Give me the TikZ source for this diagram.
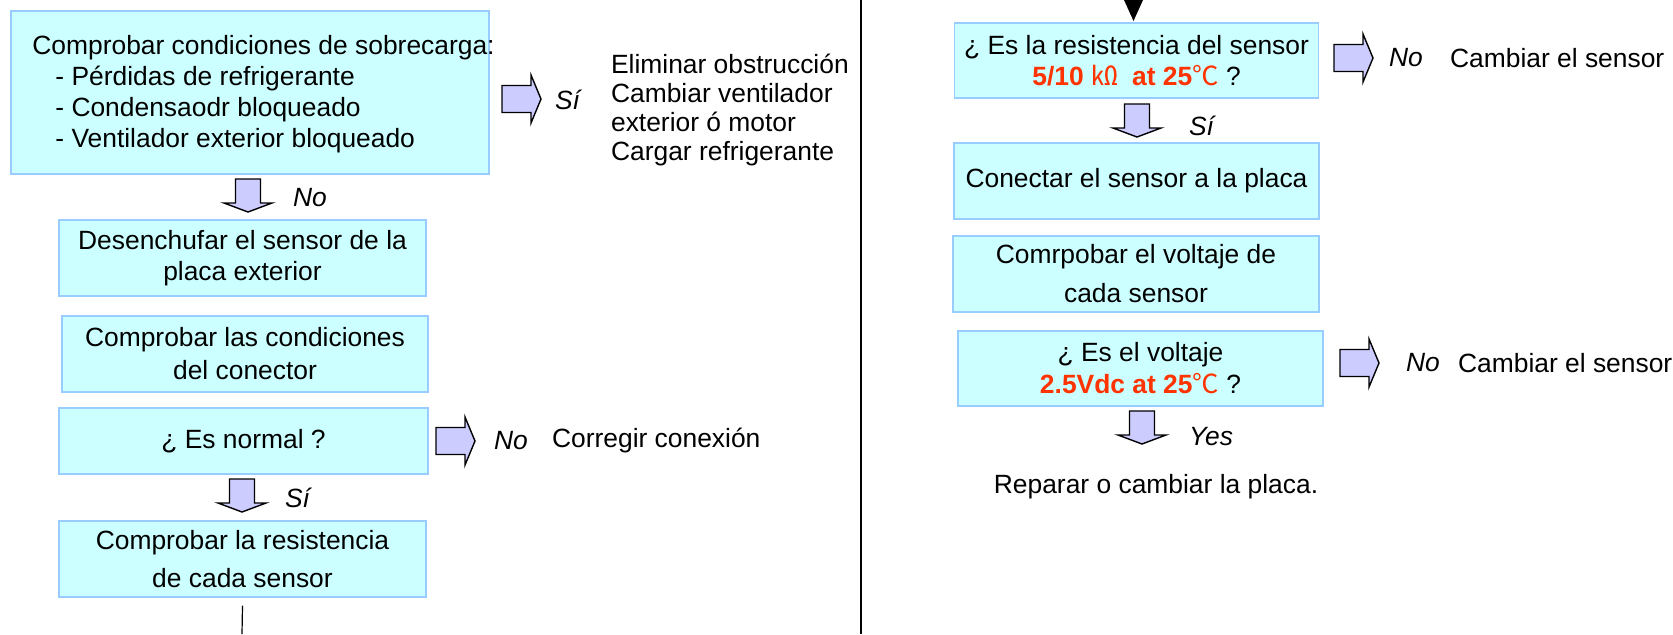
\documentclass[tikz,border=0pt]{standalone}
\usepackage{fontspec}
\setmainfont{Liberation Sans}
\newfontfamily\cjk{Noto Sans CJK SC}
\usepackage{xcolor}
\usetikzlibrary{arrows.meta}
\definecolor{boxfill}{HTML}{CCFFFF}
\definecolor{boxline}{HTML}{99CCFF}
\definecolor{arrowfill}{HTML}{CCCCFF}
\definecolor{alertred}{HTML}{FF3300}

\begin{document}
\begin{tikzpicture}[
        x=0.5pt, y=-0.5pt,
        every node/.style={font=\fontsize{13.2}{15.5}\selectfont},
        box/.style={
            draw=boxline,
            fill=boxfill,
            line width=0.6pt,
            inner sep=0pt,
            align=center
        },
        answer/.style={anchor=west, font=\fontsize{13.2}{15.5}\selectfont\itshape},
        outcome/.style={anchor=west, align=left},
        blockarrow/.style={draw=black, fill=arrowfill, line width=0.7pt, line join=miter},
        rblock/.pic={\draw[blockarrow] (0,-13.5) -- (29,-13.5) -- (29,-24) -- (39,0) -- (29,24) -- (29,13.5) -- (0,13.5) -- cycle;},
        dblock/.pic={\draw[blockarrow] (-12.5,0) -- (12.5,0) -- (12.5,24) -- (24,24) -- (0,33) -- (-24,24) -- (-12.5,24) -- cycle;}
    ]
        \useasboundingbox (0,0) rectangle (1673,634);

        % left column
        \node[box, minimum width=239pt, minimum height=81.5pt] (overload) at (250,92.5) {};
        \node[anchor=west, align=left, inner sep=0pt] (overloadtxt) at (32,94) {Comprobar condiciones de sobrecarga:\\
            \hspace*{11.5pt}- Pérdidas de refrigerante\\
            \hspace*{11.5pt}- Condensaodr bloqueado\\
            \hspace*{11.5pt}- Ventilador exterior bloqueado};
        \pic at (502,99) {rblock};
        \node[answer] (si1) at (548,100) {Sí};
        \node[outcome, font=\fontsize{13.2}{14.5}\selectfont] (fix1) at (604,110) {Eliminar obstrucción\\Cambiar ventilador\\exterior ó motor\\Cargar refrigerante};

        \pic at (248,179) {dblock};
        \node[answer] (no1) at (286,198) {No};

        \node[box, minimum width=183.5pt, minimum height=38pt] (unplug) at (242.5,258) {Desenchufar el sensor de la\\placa exterior};
        \node[box, minimum width=183pt, minimum height=38pt, font=\fontsize{13.2}{16.5}\selectfont] (connector) at (245,354) {Comprobar las condiciones\\del conector};
        \node[box, minimum width=184.5pt, minimum height=33pt] (normal) at (243.5,441) {¿ Es normal ?};
        \pic at (436,441) {rblock};
        \node[answer] (no2) at (487,441) {No};
        \node[outcome] (fix2) at (545,441) {Corregir conexión};
        \pic at (242,479) {dblock};
        \node[answer] (si2) at (278,498) {Sí};
        \node[box, minimum width=183.5pt, minimum height=38pt, font=\fontsize{13.2}{19}\selectfont] (resist) at (242.5,559) {Comprobar la resistencia\\de cada sensor};
        \coordinate (resistend) at (242,634);
        \draw[line width=0.6pt] ([yshift=-4pt]resist.south) -- (resistend);

        \draw[line width=0.9pt] (861,0) -- (861,634);

        % right column
        \fill (1124,0) -- (1143,0) -- (1133.5,21) -- cycle;
        \node[box, minimum width=182pt, minimum height=37.5pt] (rcheck) at (1136.5,60.5) {¿ Es la resistencia del sensor\\
            {\color{alertred}\bfseries 5/10 {\cjk\mdseries ㏀}\ \ at 25{\cjk\mdseries ℃}} ?};
        \pic at (1334,58) {rblock};
        \node[answer] (no3) at (1382,58) {No};
        \node[outcome] (fix3) at (1443,58) {Cambiar el sensor};
        \pic at (1137,104) {dblock};
        \node[answer] (si3) at (1182,126) {Sí};

        \node[box, minimum width=182.5pt, minimum height=38pt] (plug) at (1136.5,181) {Conectar el sensor a la placa};
        \node[box, minimum width=183pt, minimum height=38pt, font=\fontsize{13.2}{19.5}\selectfont] (vcheck) at (1136,274) {Comrpobar el voltaje de\\cada sensor};
        \node[box, minimum width=182.5pt, minimum height=37.5pt, font=\fontsize{13.2}{16}\selectfont] (volt) at (1140.5,368.5) {¿ Es el voltaje\\
            {\color{alertred}\bfseries 2.5Vdc at 25{\cjk\mdseries ℃}} ?};
        \pic at (1340,363) {rblock};
        \node[answer] (no4) at (1399,363) {No};
        \node[outcome] (fix4) at (1451,363) {Cambiar el sensor};
        \pic at (1142,411) {dblock};
        \node[answer] (yes1) at (1182,437) {Yes};
        \node (repair) at (1156,487) {Reparar o cambiar la placa.};
    \end{tikzpicture}
\end{document}
